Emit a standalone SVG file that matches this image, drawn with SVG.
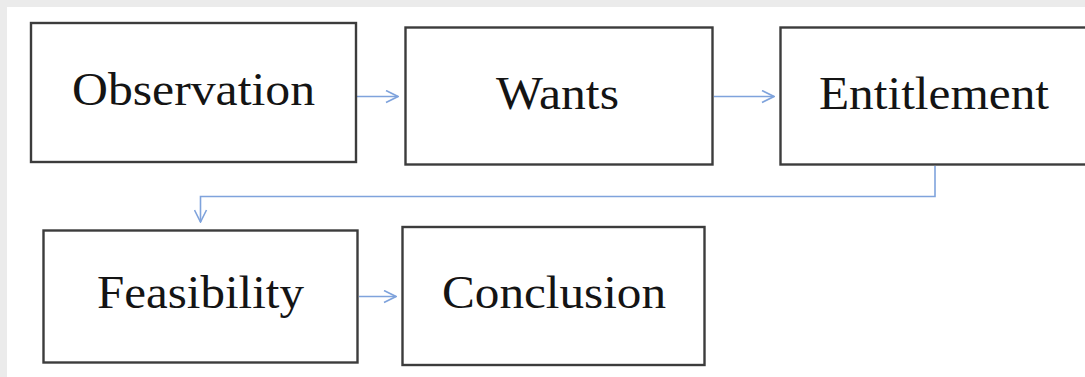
<svg xmlns="http://www.w3.org/2000/svg" width="1085" height="377" viewBox="0 0 1085 377">
<style>
.box{fill:#ffffff;stroke:#3c3c3c;stroke-width:2.4}
.lbl{font-family:"Liberation Serif","Times New Roman",serif;font-size:46px;fill:#141414}
.conn{fill:none;stroke:#7fa3dc;stroke-width:1.6}
</style>
<defs>
<marker id="arr" viewBox="0 0 14 14" refX="13" refY="7" markerWidth="14" markerHeight="14" markerUnits="userSpaceOnUse" orient="auto">
<path d="M1,1 L13,7 L1,13" fill="none" stroke="#7fa3dc" stroke-width="1.6"/>
</marker>
</defs>
<rect x="0" y="0" width="1085" height="377" fill="#ebebeb"/>
<rect x="7" y="7" width="1078" height="370" fill="#ffffff"/>
<g id="connectors">
<line class="conn" x1="357" y1="96.5" x2="398" y2="96.5" marker-end="url(#arr)"/>
<line class="conn" x1="714" y1="96.5" x2="774" y2="96.5" marker-end="url(#arr)"/>
<polyline class="conn" points="935,166 935,196.5 200.5,196.5 200.5,222" marker-end="url(#arr)"/>
<line class="conn" x1="359" y1="296.5" x2="396" y2="296.5" marker-end="url(#arr)"/>
</g>
<g id="observation">
<rect class="box" x="31" y="23" width="325" height="139"/>
<text class="lbl" x="72" y="105" textLength="243" lengthAdjust="spacingAndGlyphs">Observation</text>
</g>
<g id="wants">
<rect class="box" x="405.5" y="27.5" width="307" height="137"/>
<text class="lbl" x="496" y="109" textLength="123" lengthAdjust="spacingAndGlyphs">Wants</text>
</g>
<g id="entitlement">
<rect class="box" x="780.5" y="27.5" width="306" height="137"/>
<text class="lbl" x="819" y="109" textLength="230" lengthAdjust="spacingAndGlyphs">Entitlement</text>
</g>
<g id="feasibility">
<rect class="box" x="43.5" y="230.5" width="314" height="132"/>
<text class="lbl" x="97" y="308" textLength="207" lengthAdjust="spacingAndGlyphs">Feasibility</text>
</g>
<g id="conclusion">
<rect class="box" x="402.5" y="227" width="302" height="138"/>
<text class="lbl" x="442" y="308" textLength="224" lengthAdjust="spacingAndGlyphs">Conclusion</text>
</g>
</svg>
